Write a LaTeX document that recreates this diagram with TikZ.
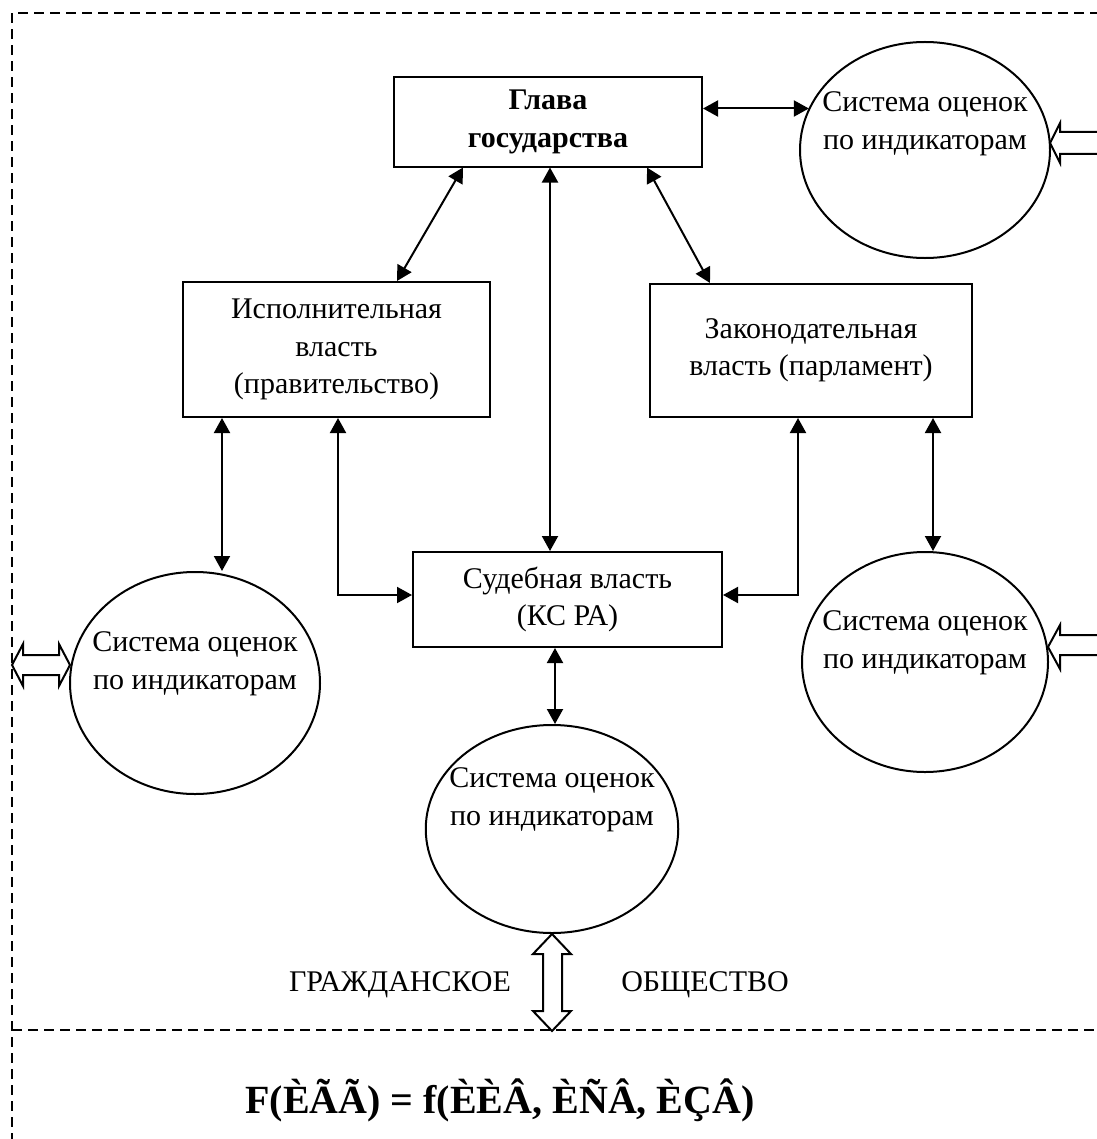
\documentclass[tikz,border=0pt]{standalone}
\usepackage{fontspec}
\setmainfont{Liberation Serif}
\usetikzlibrary{arrows.meta,shapes.geometric}

\begin{document}
\begin{tikzpicture}[
  x=0.4pt, y=-0.4pt,
  >={Triangle[length=6pt,width=6.4pt]},
  frame/.style={dash pattern=on 4pt off 2.4pt, line width=0.6pt},
  branch/.style={rectangle, draw, line width=0.8pt, align=center, inner sep=0pt},
  ocenka/.style={ellipse, draw, line width=0.8pt, inner sep=0pt},
  link/.style={<->, line width=0.8pt},
  hollow/.style={draw, line width=0.8pt, fill=white, line join=miter},
  every node/.style={font=\fontsize{12}{15}\selectfont}
]
  \useasboundingbox (0,0) rectangle (1096,1139);

  % dashed frame
  \draw[frame] (1100,13) -- (12,13) -- (12,1145);
  \draw[frame] (12,1030) -- (1100,1030);

  % branches of power
  \node[branch, minimum width=123.2pt, minimum height=35.6pt,
        font=\fontsize{12}{15}\selectfont\bfseries] (glava) at (548,122) {Глава\\государства};
  \node[branch, minimum width=122.8pt, minimum height=54pt] (ispoln) at (336.5,349.5) {Исполнительная\\власть\\(правительство)};
  \node[branch, minimum width=128.8pt, minimum height=53.2pt] (zakon) at (811,350.5) {Законодательная\\власть (парламент)};
  \node[branch, minimum width=123.6pt, minimum height=38pt] (sud) at (567.5,599.5) {Судебная власть\\(КС РА)};

  % indicator ellipses
  \node[ocenka, minimum width=100pt, minimum height=86.4pt] (oc1) at (925,150) {};
  \node[ocenka, minimum width=100pt, minimum height=88.8pt] (oc2) at (195,683) {};
  \node[ocenka, minimum width=98.4pt, minimum height=88pt] (oc3) at (925,662) {};
  \node[ocenka, minimum width=101pt, minimum height=83.2pt] (oc4) at (552,829) {};

  \node[align=center] (oc1txt) at (925,124) {Система оценок\\по индикаторам};
  \node[align=center] (oc2txt) at (195,664) {Система оценок\\по индикаторам};
  \node[align=center] (oc3txt) at (925,643) {Система оценок\\по индикаторам};
  \node[align=center] (oc4txt) at (552,800) {Система оценок\\по индикаторам};

  % links
  \draw[link] ([xshift=-34pt]glava.south) -- ([xshift=24.2pt]ispoln.north);
  \draw[link] ([xshift=39.6pt]glava.south) -- ([xshift=-40.4pt]zakon.north);
  \draw[link] ([xshift=0.8pt]glava.south) -- ([xshift=0.8pt]glava.south |- sud.north);
  \draw[link] ([yshift=5.4pt]glava.east) -- ([yshift=5.4pt]glava.east -| oc1.160);
  \draw[link] ([xshift=-45.8pt]ispoln.south) -- ([xshift=-45.8pt]ispoln.south |- oc2.north);
  \draw[link] ([xshift=0.6pt]ispoln.south) |- ([yshift=1.8pt]sud.west);
  \draw[link] ([xshift=-5.2pt]zakon.south) |- ([yshift=1.8pt]sud.east);
  \draw[link] ([xshift=48.8pt]zakon.south) -- ([xshift=48.8pt]zakon.south |- oc3.north);
  \draw[link] ([xshift=-5pt]sud.south) -- ([xshift=-5pt]sud.south |- oc4.north);

  % wide hollow arrows
  \draw[hollow] (oc4.south) -- ++(19,20) -- ++(-9,0) -- ++(0,57) -- ++(9,0) -- ++(-19,20)
    -- ++(-19,-20) -- ++(10,0) -- ++(0,-57) -- ++(-10,0) -- cycle;
  \draw[hollow] (12,665) -- ++(11,-21) -- ++(0,11) -- ++(36,0) -- ++(0,-11) -- ++(11,21)
    -- ++(-11,21) -- ++(0,-11) -- ++(-36,0) -- ++(0,11) -- cycle;
  \draw[hollow] (1050,143) -- ++(10,-20) -- ++(0,9) -- (1105,132) -- (1105,154) -- (1060,154) -- (1060,163) -- cycle;
  \draw[hollow] (1048,647) -- ++(12,-22) -- ++(0,10) -- (1105,635) -- (1105,655) -- (1060,655) -- (1060,669) -- cycle;

  % society
  \node (grazhd) at (400,985) {ГРАЖДАНСКОЕ};
  \node (obsh) at (705,985) {ОБЩЕСТВО};

  \node[font=\fontsize{16}{19}\selectfont\bfseries] (formula) at (500,1100) {F(ÈÃÃ) = f(ÈÈÂ, ÈÑÂ, ÈÇÂ)};
\end{tikzpicture}
\end{document}
